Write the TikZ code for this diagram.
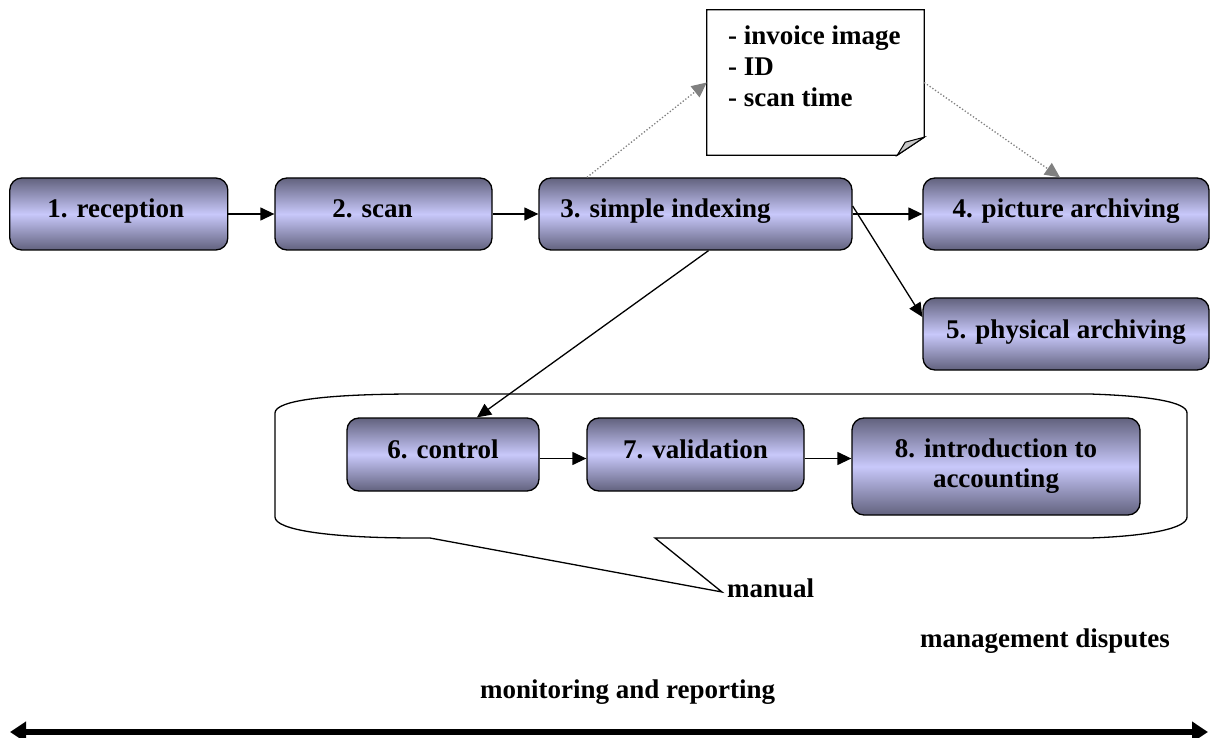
\documentclass[tikz,border=0pt]{standalone}
\usepackage{fontspec}
\setmainfont{Liberation Serif}
\usetikzlibrary{arrows.meta}
\definecolor{boxdark}{RGB}{98,98,126}
\definecolor{boxlight}{RGB}{200,200,250}
\definecolor{dotgray}{RGB}{128,128,128}
\definecolor{foldgray}{RGB}{200,200,200}
\begin{document}
\begin{tikzpicture}[x=1pt,y=-1pt,
  lbl/.style={font=\fontsize{27}{31}\selectfont\bfseries, inner sep=0pt},
  procbox/.style={draw=black, line width=1.3pt, rounded corners=12pt,
    top color=boxdark, bottom color=boxdark, middle color=boxlight,
    font=\fontsize{27}{30}\selectfont\bfseries, text height=18pt, text depth=10pt,
    inner sep=0pt, minimum height=72pt, align=center},
  arr/.style={line width=1.3pt, -{Triangle[length=14pt,width=13pt]}},
  dotarr/.style={draw=dotgray, line width=1.3pt, dotted, -{Triangle[length=15pt,width=14pt,fill=dotgray]}},
  plain/.style={line width=1.3pt}]
\useasboundingbox (0,0) rectangle (1211,738);

% note with folded corner
\node[minimum width=217pt, minimum height=145pt, inner sep=0pt] (note) at (815.5,82.5) {};
\draw[plain, fill=white] (note.north west) -- (note.north east) -- ([yshift=18pt]note.south east)
  -- ([xshift=-27pt]note.south east) -- (note.south west) -- cycle;
\draw[line width=1pt, fill=foldgray] ([xshift=-27pt]note.south east)
  .. controls ([xshift=-22pt,yshift=8pt]note.south east) .. ([xshift=-19pt,yshift=13pt]note.south east)
  .. controls ([xshift=-10pt,yshift=15pt]note.south east) .. ([yshift=18pt]note.south east) -- cycle;
\node[lbl, anchor=base west] (n1) at (728,45) {- invoice image};
\node[lbl, anchor=base west] (n2) at (728,76) {- ID};
\node[lbl, anchor=base west] (n3) at (728,107) {- scan time};

% callout "manual"
\coordinate (tip) at (722,592);
\draw[plain, fill=white] (417,394) -- (1090,394)
  .. controls (1150,396) and (1187,402) .. (1187,413) -- (1187,517)
  .. controls (1187,528) and (1150,536) .. (1090,538) -- (655,538) -- (tip) -- (430,538)
  -- (417,538) .. controls (330,538) and (275,530) .. (275,517) -- (275,413)
  .. controls (275,400) and (330,394) .. (417,394) -- cycle;
\node[lbl, anchor=base west] (manual) at (727,597) {manual};

% process boxes
\node[procbox, minimum width=218pt] (b1) at (118.8,214) {1. reception\hspace*{6pt}};
\node[procbox, minimum width=217pt] (b2) at (383.5,214) {2. scan\hspace*{22pt}};
\node[procbox, minimum width=313pt] (b3) at (695.5,214) {3. simple indexing\hspace*{60pt}};
\node[procbox, minimum width=286pt] (b4) at (1066,214) {4. picture archiving};
\node[procbox, minimum width=286pt] (b5) at (1066,334) {5. physical archiving};
\node[procbox, minimum width=192pt, minimum height=73pt] (b6) at (443,454.5) {6. control};
\node[procbox, minimum width=217pt, minimum height=73pt] (b7) at (695.5,454.5) {7. validation};
\node[procbox, minimum width=288pt, minimum height=97pt, text height=, text depth=] (b8) at (996,466.5) {8. introduction to\\accounting};

% connectors
\draw[arr] (b1.east) -- (b2.west);
\draw[arr] (b2.east) -- (b3.west);
\draw[arr] (b3.east) -- (b4.west);
\draw[arr] ([yshift=8pt]b3.east) -- ([yshift=17pt]b5.west);
\draw[arr] ([xshift=13pt]b3.south) -- ([xshift=34pt]b6.north);
\draw[arr] ([yshift=-4pt]b6.east) -- ([yshift=-4pt]b7.west);
\draw[arr] ([yshift=-4pt]b7.east) -- ([yshift=-4pt]b7.east -| b8.west);
\draw[dotarr] ([xshift=-108.5pt]b3.north) -- (note.west);
\draw[dotarr] (note.east) -- ([xshift=-6pt]b4.north);

% bottom labels and timeline
\node[lbl, anchor=base west] (mgmt) at (920,647) {management disputes};
\node[lbl, anchor=base west] (mon) at (480,698) {monitoring and reporting};
\coordinate (la) at (10,732);
\coordinate (ra) at (1208,732);
\draw[line width=6pt, {Triangle[length=16pt,width=20pt]}-{Triangle[length=16pt,width=20pt]}] (la) -- (ra);
\end{tikzpicture}
\end{document}
